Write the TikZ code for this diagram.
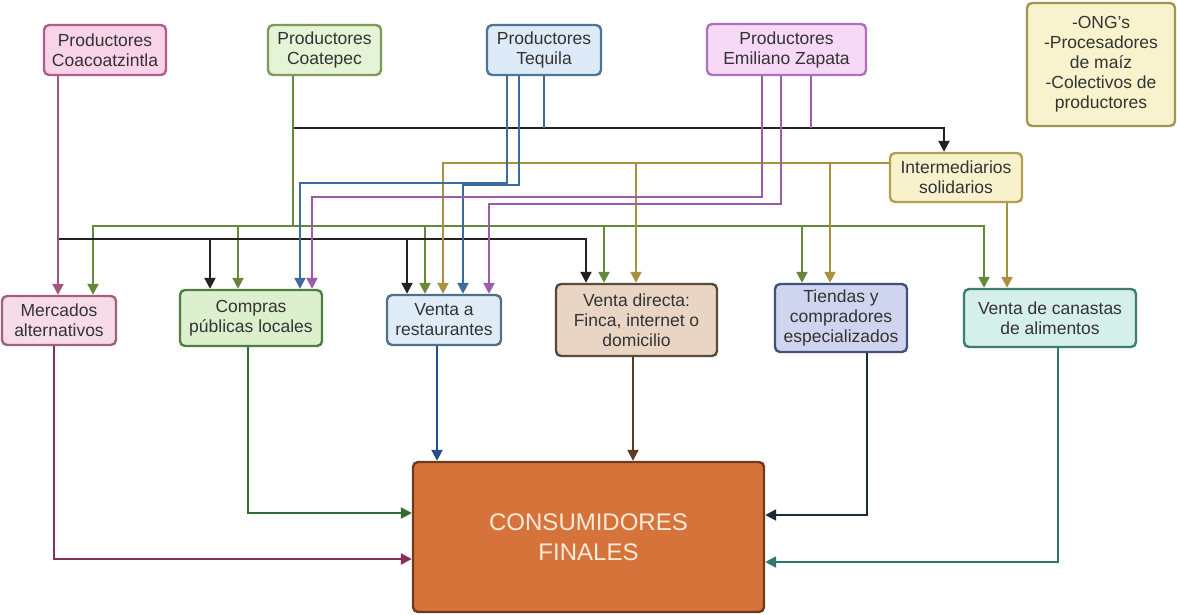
\documentclass[tikz,border=0pt]{standalone}
\usepackage{fontspec}
\setmainfont{Liberation Sans}
\usetikzlibrary{arrows.meta}

% box colours (fill / border)
\definecolor{coaF}{HTML}{F9D4E8}\definecolor{coaD}{HTML}{B55A8A}
\definecolor{cteF}{HTML}{E5F3D6}\definecolor{cteD}{HTML}{7E9B5A}
\definecolor{teqF}{HTML}{DDEBF8}\definecolor{teqD}{HTML}{4E7596}
\definecolor{zapF}{HTML}{F6D9F6}\definecolor{zapD}{HTML}{B070C0}
\definecolor{ongF}{HTML}{F8F3CC}\definecolor{ongD}{HTML}{A39455}
\definecolor{intF}{HTML}{F8F2CC}\definecolor{intD}{HTML}{B49E52}
\definecolor{merF}{HTML}{F7DCE8}\definecolor{merD}{HTML}{A0607E}
\definecolor{comF}{HTML}{DDF0CE}\definecolor{comD}{HTML}{4E7E40}
\definecolor{resF}{HTML}{DFECF8}\definecolor{resD}{HTML}{4E7088}
\definecolor{dirF}{HTML}{E9D5C4}\definecolor{dirD}{HTML}{5A4A3C}
\definecolor{tieF}{HTML}{CFD5EF}\definecolor{tieD}{HTML}{41507C}
\definecolor{canF}{HTML}{D5EFEB}\definecolor{canD}{HTML}{3E7E70}
\definecolor{conF}{HTML}{D5733A}\definecolor{conD}{HTML}{6E3A1E}
\definecolor{conT}{HTML}{FCEBDD}
\definecolor{txt}{HTML}{333333}
% line colours
\definecolor{mag}{HTML}{A4527F}\definecolor{blk}{HTML}{222222}
\definecolor{grn}{HTML}{66883A}\definecolor{blu}{HTML}{3C6C9C}
\definecolor{pur}{HTML}{9B5CAA}\definecolor{olv}{HTML}{A8913F}
\definecolor{magD}{HTML}{8B2D5C}\definecolor{grnD}{HTML}{2F6B33}
\definecolor{bluD}{HTML}{22508F}\definecolor{brnD}{HTML}{5B3B22}
\definecolor{navD}{HTML}{1B2B3A}\definecolor{tealD}{HTML}{2F7768}

\begin{document}
\begin{tikzpicture}[x=1pt,y=-1pt,
    box/.style={draw, rounded corners=5pt, line width=2.4pt, align=center,
        inner sep=0pt, text=txt, font=\fontsize{17.5}{20}\selectfont},
    link/.style={line width=2.2pt},
    tip/.style={-{Triangle[length=11pt,width=11pt]}}]
\useasboundingbox (0,0) rectangle (1177,615);

% producers
\node[box, fill=coaF, draw=coaD, minimum width=122pt, minimum height=50pt] (coa) at (105,50) {Productores\\Coacoatzintla};
\node[box, fill=cteF, draw=cteD, minimum width=113pt, minimum height=50pt] (cte) at (324.5,50) {Productores\\Coatepec};
\node[box, fill=teqF, draw=teqD, minimum width=114pt, minimum height=50pt] (teq) at (544,50) {Productores\\Tequila};
\node[box, fill=zapF, draw=zapD, minimum width=159pt, minimum height=51pt] (zap) at (786.5,49.5) {Productores\\Emiliano Zapata};
\node[box, fill=ongF, draw=ongD, minimum width=148pt, minimum height=123pt] (ong) at (1101,64.5) {-ONG's\\-Procesadores\\de maíz\\-Colectivos de\\productores};
\node[box, fill=intF, draw=intD, minimum width=132pt, minimum height=49pt] (inter) at (956,177.5) {Intermediarios\\solidarios};

% channels
\node[box, fill=merF, draw=merD, minimum width=114pt, minimum height=49pt] (merc) at (59,320.5) {Mercados\\alternativos};
\node[box, fill=comF, draw=comD, minimum width=142pt, minimum height=56pt] (comp) at (251,318) {Compras\\públicas locales};
\node[box, fill=resF, draw=resD, minimum width=114pt, minimum height=50pt] (rest) at (444,320) {Venta a\\restaurantes};
\node[box, fill=dirF, draw=dirD, minimum width=161pt, minimum height=72pt] (dir) at (636.5,320) {Venta directa:\\Finca, internet o\\domicilio};
\node[box, fill=tieF, draw=tieD, minimum width=132pt, minimum height=68pt] (tien) at (841,318) {Tiendas y\\compradores\\especializados};
\node[box, fill=canF, draw=canD, minimum width=172pt, minimum height=58pt] (can) at (1050,318) {Venta de canastas\\de alimentos};

\node[box, fill=conF, draw=conD, text=conT, minimum width=351pt, minimum height=150pt,
    font=\fontsize{24}{29.5}\selectfont] (cons) at (588.5,537) {CONSUMIDORES\\FINALES};

% routing points
\coordinate (kb) at (58,239);  \coordinate (k1) at (210,239);
\coordinate (k2) at (407,239); \coordinate (k3) at (586,239);
\coordinate (kt) at (293,128); \coordinate (ki) at (944,128);
\coordinate (t3) at (544,128); \coordinate (z3) at (811,128);
\coordinate (gc) at (293,226); \coordinate (g1) at (93,226);
\coordinate (g2) at (238,226); \coordinate (g3) at (425,226);
\coordinate (g4) at (604,226); \coordinate (g5) at (802,226);
\coordinate (g6) at (984,226);
\coordinate (b1) at (507,183); \coordinate (b2) at (300,183);
\coordinate (b3) at (519,185); \coordinate (b4) at (463,185);
\coordinate (p1) at (762,197); \coordinate (p2) at (312,197);
\coordinate (p3) at (781,204); \coordinate (p4) at (489,204);
\coordinate (o1) at (443,163); \coordinate (o2) at (636,163);
\coordinate (o3) at (830,163); \coordinate (o4) at (1007,203);
\coordinate (m5) at (54,559);  \coordinate (c5) at (248,513);
\coordinate (r5) at (437,400); \coordinate (d5) at (633,400);
\coordinate (s5) at (867,515); \coordinate (v5) at (1058,562);

% to the intermediaries
\draw[link,blk,tip] (kt) -- (ki) -- (ki |- inter.north);
\draw[link,blu] (teq.south -| t3) -- (t3);
\draw[link,pur] (zap.south -| z3) -- (z3);

% Coatepec
\draw[link,grn] (cte.south -| gc) -- (gc);
\draw[link,grn,tip] (g3) -- (g1) -- (g1 |- merc.north);
\draw[link,grn,tip] (g3) -- (g6) -- (g6 |- can.north);
\foreach \c/\n in {g2/comp,g3/rest,g4/dir,g5/tien}
    \draw[link,grn,tip] (\c) -- (\c |- \n.north);

% Coacoatzintla
\draw[link,blk,tip] (kb) -- (k3) -- (k3 |- dir.north);
\foreach \c/\n in {k1/comp,k2/rest}
    \draw[link,blk,tip] (\c) -- (\c |- \n.north);
\draw[link,mag,tip] (coa.south -| kb) -- (kb |- merc.north);

% intermediaries
\draw[link,olv,tip] (inter.west |- o1) -- (o1) -- (o1 |- rest.north);
\foreach \c/\n in {o2/dir,o3/tien}
    \draw[link,olv,tip] (\c) -- (\c |- \n.north);
\draw[link,olv,tip] (inter.south -| o4) -- (can.north -| o4);

% Tequila and Emiliano Zapata
\draw[link,blu,tip] (teq.south -| b1) -- (b1) -- (b2) -- (b2 |- comp.north);
\draw[link,blu,tip] (teq.south -| b3) -- (b3) -- (b4) -- (b4 |- rest.north);
\draw[link,pur,tip] (zap.south -| p1) -- (p1) -- (p2) -- (p2 |- comp.north);
\draw[link,pur,tip] (zap.south -| p3) -- (p3) -- (p4) -- (p4 |- rest.north);

% to the final consumers
\draw[link,magD,tip] (merc.south -| m5) -- (m5) -- (m5 -| cons.west);
\draw[link,grnD,tip] (comp.south -| c5) -- (c5) -- (c5 -| cons.west);
\draw[link,bluD,tip] (rest.south -| r5) -- (r5 |- cons.north);
\draw[link,brnD,tip] (dir.south -| d5) -- (d5 |- cons.north);
\draw[link,navD,tip] (tien.south -| s5) -- (s5) -- (s5 -| cons.east);
\draw[link,tealD,tip] (can.south -| v5) -- (v5) -- (v5 -| cons.east);
\end{tikzpicture}
\end{document}
